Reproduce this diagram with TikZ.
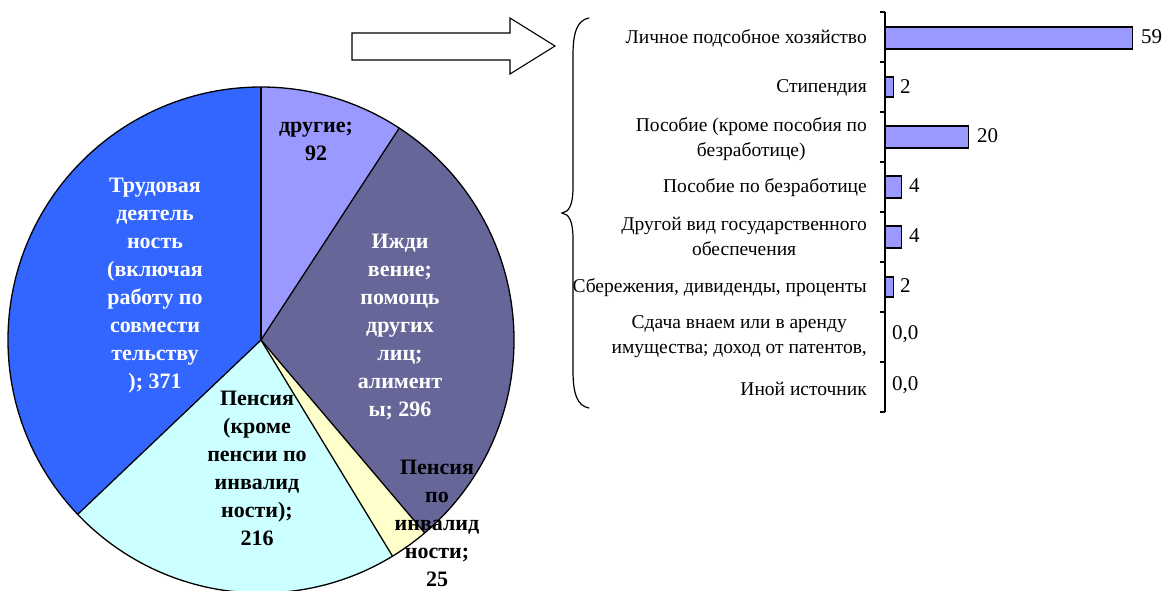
\documentclass[tikz,border=0pt]{standalone}
\usepackage{fontspec}
\setmainfont{Liberation Serif}
\definecolor{cTrud}{HTML}{3366FF}
\definecolor{cDrug}{HTML}{9999FF}
\definecolor{cIzhd}{HTML}{666699}
\definecolor{cPinv}{HTML}{FFFFCC}
\definecolor{cPens}{HTML}{CCFFFF}
\definecolor{cBar}{HTML}{9999FF}
\tikzset{
  pielbl/.style={align=center, inner sep=0pt, font=\fontsize{22}{28}\selectfont\bfseries},
  catlbl/.style={align=center, anchor=east, inner sep=0pt, font=\fontsize{19.5}{25}\selectfont},
  vallbl/.style={anchor=west, inner sep=0pt, font=\fontsize{21}{22}\selectfont},
  barbox/.style={draw=black, fill=cBar, line width=1.2pt},
  sliceline/.style={draw=black, line width=1.3pt, line join=round},
}
\begin{document}
\begin{tikzpicture}[x=1pt,y=-1pt]
\useasboundingbox (0,0) rectangle (1166,590);
\fill[white] (0,0) rectangle (1166,590);
% ---------- pie ----------
\begin{scope}[shift={(261,340)}, y=1pt]
  \fill[cDrug] (0,0) -- (90:253pt) arc[start angle=90, end angle=56.88, radius=253pt] -- cycle;
  \fill[cIzhd] (0,0) -- (56.88:253pt) arc[start angle=56.88, end angle=-49.68, radius=253pt] -- cycle;
  \fill[cPinv] (0,0) -- (-49.68:253pt) arc[start angle=-49.68, end angle=-58.68, radius=253pt] -- cycle;
  \fill[cPens] (0,0) -- (-58.68:253pt) arc[start angle=-58.68, end angle=-136.44, radius=253pt] -- cycle;
  \fill[cTrud] (0,0) -- (-136.44:253pt) arc[start angle=-136.44, end angle=-270, radius=253pt] -- cycle;
  \draw[sliceline] (0,0) circle[radius=253pt];
  \draw[sliceline] (0,0) -- (56.88:253pt);
  \draw[sliceline] (0,0) -- (-49.68:253pt);
  \draw[sliceline] (0,0) -- (-58.68:253pt);
  \draw[sliceline] (0,0) -- (-136.44:253pt);
  \draw[black, line width=2.2pt] (0,0) -- (90:253pt);
\end{scope}
\node[pielbl, text=black] (drug) at (316,141) {другие;\\92};
\node[pielbl, text=white] (trud) at (155,286) {Трудовая\\деятель\\ность\\(включая\\работу по\\совмести\\тельству\\); 371};
\node[pielbl, text=white] (izhd) at (400,327) {Ижди\\вение;\\помощь\\других\\лиц;\\алимент\\ы; 296};
\node[pielbl, text=black] (pens) at (257,468) {Пенсия\\(кроме\\пенсии по\\инвалид\\ности);\\216};
\node[pielbl, text=black] (pinv) at (437,523) {Пенсия\\по\\инвалид\\ности;\\25};
% ---------- arrow ----------
\draw[black, line width=1.1pt, fill=white, line join=miter]
  (352,33) -- (510,33) -- (510,18) -- (555,46) -- (510,74) -- (510,60) -- (352,60) -- cycle;
% ---------- brace ----------
\coordinate (braceT) at (589,18);
\coordinate (braceTip) at (562,213);
\coordinate (braceB) at (589,408);
\draw[black, line width=1.2pt, line cap=round]
  (braceT) .. controls (577,20) and (573,33) .. (573,55) -- (573,187)
  .. controls (573,205) and (569,212) .. (braceTip)
  .. controls (569,214) and (573,221) .. (573,239) -- (573,371)
  .. controls (573,393) and (577,406) .. (braceB);
% ---------- bar chart ----------
\coordinate (axT) at (885,12);
\coordinate (axB) at (885,412);
\draw[black, line width=1.4pt] (axT) -- (axB);
\foreach \k in {0,...,8} {
  \draw[black, line width=1.4pt] (880,12+50*\k) -- (885,12+50*\k);
}
% bars: scale 4.19 px per unit
\draw[barbox] (885,27) rectangle (1132.2,49);
\draw[barbox] (885,77) rectangle (893.4,97);
\draw[barbox] (885,126) rectangle (968.8,148);
\draw[barbox] (885,176) rectangle (901.8,198);
\draw[barbox] (885,226) rectangle (901.8,248);
\draw[barbox] (885,277) rectangle (893.4,297);
\node[catlbl] (c1) at (867,38) {Личное подсобное хозяйство};
\node[catlbl] (c2) at (867,88) {Стипендия};
\node[catlbl] (c3) at (867,139) {Пособие (кроме пособия по\\безработице)};
\node[catlbl] (c4) at (867,188) {Пособие по безработице};
\node[catlbl] (c5) at (867,236) {Другой вид государственного\\обеспечения};
\node[catlbl] (c6) at (867,288) {Сбережения, дивиденды, проценты};
\node[catlbl] (c7) at (867,337) {Сдача внаем или в аренду\\имущества; доход от патентов,};
\node[catlbl] (c8) at (867,389) {Иной источник};
\node[vallbl] (v1) at (1141,37) {59};
\node[vallbl] (v2) at (900,87) {2};
\node[vallbl] (v3) at (977,136) {20};
\node[vallbl] (v4) at (909,186) {4};
\node[vallbl] (v5) at (909,236) {4};
\node[vallbl] (v6) at (900,286) {2};
\node[vallbl] (v7) at (892,334) {0,0};
\node[vallbl] (v8) at (892,385) {0,0};
\end{tikzpicture}
\end{document}
